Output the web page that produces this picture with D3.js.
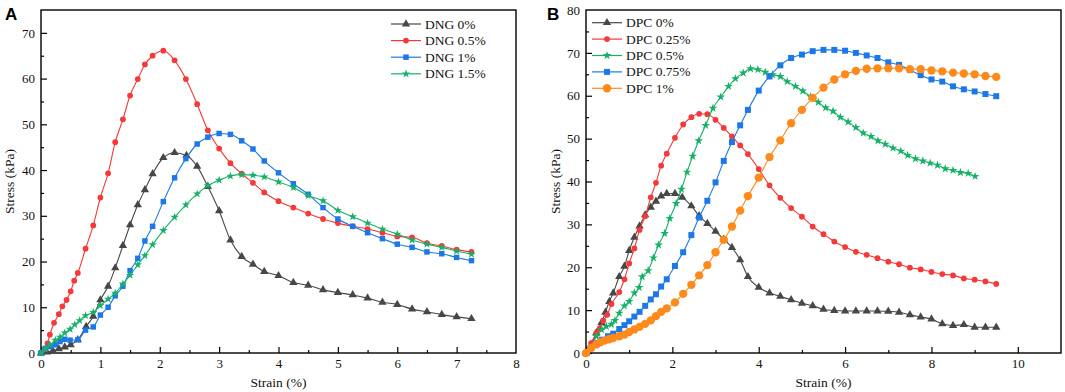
<!DOCTYPE html>
<html>
<head>
<meta charset="utf-8">
<script src="https://cdn.jsdelivr.net/npm/d3@7"></script>
<style>
  body { margin: 0; background: #fff; }
  svg { display: block; }
  .tick text { font-family: "Liberation Serif", "Times New Roman", serif; font-size: 13px; fill: #111; }
  .domain { display: none; }
  .tick line { stroke: #000; stroke-width: 1.2; }
</style>
</head>
<body>
<div id="chart"></div>
<script>
// ---- data (strain %, stress kPa) ----
const dngNames = ["DNG 0%", "DNG 0.5%", "DNG 1%", "DNG 1.5%"];
const dng0 = [[0,0],[0.1,0.2],[0.2,0.5],[0.3,0.9],[0.4,1.3],[0.5,1.8],[0.62,2.9],[0.76,5.8],[0.88,8],[1.0,11.6],[1.13,14.6],[1.25,18.6],[1.38,23.5],[1.5,28],[1.63,32.4],[1.75,35.7],[1.88,39.2],[2.06,42.7],[2.25,43.8],[2.45,43.2],[2.63,40.8],[2.81,36.4],[3.0,31.1],[3.19,24.7],[3.38,21.1],[3.57,19.4],[3.76,17.8],[4.0,16.9],[4.25,15.4],[4.5,14.8],[4.75,13.8],[5.0,13.2],[5.25,12.7],[5.5,12.0],[5.75,11.1],[6.0,10.6],[6.25,9.6],[6.5,9.0],[6.75,8.4],[7.0,7.9],[7.25,7.5]];
const dng05 = [[0,0],[0.07,0.8],[0.11,2.1],[0.15,4.0],[0.22,6.6],[0.3,8.5],[0.36,10.2],[0.43,11.6],[0.5,13.5],[0.56,15.8],[0.62,17.5],[0.75,22.8],[0.88,27.9],[1.0,34],[1.13,39.3],[1.25,46.1],[1.38,51.1],[1.5,56.3],[1.63,59.9],[1.75,63.1],[1.88,65],[2.06,66.1],[2.25,64],[2.44,59.9],[2.63,54.4],[2.81,48.7],[3.0,44.7],[3.19,41.5],[3.38,39.2],[3.57,37.2],[3.76,35.1],[4.0,33.2],[4.25,31.8],[4.5,30.5],[4.75,29.3],[5.0,28.4],[5.25,27.7],[5.5,27.1],[5.75,26.3],[6.0,25.5],[6.25,25.3],[6.5,24.0],[6.75,23.4],[7.0,22.6],[7.25,22.1]];
const dng1 = [[0,0],[0.07,1.0],[0.15,1.4],[0.24,1.8],[0.32,2.5],[0.4,3.0],[0.49,2.8],[0.62,2.9],[0.75,5.0],[0.88,5.7],[1.0,8.3],[1.13,10],[1.25,12.5],[1.38,14.6],[1.5,18],[1.63,20.7],[1.75,24.5],[1.88,27.7],[2.06,33.1],[2.25,38.3],[2.44,42.5],[2.63,45.7],[2.81,47.2],[3.0,48],[3.19,47.8],[3.38,46.4],[3.57,44.6],[3.76,42],[4.0,39.4],[4.25,37],[4.5,34.7],[4.75,31.8],[5.0,29.3],[5.25,27.7],[5.5,26.3],[5.75,25.0],[6.0,23.8],[6.25,23.1],[6.5,22.1],[6.75,21.7],[7.0,20.9],[7.25,20.2]];
const dng15 = [[0,0],[0.07,0.9],[0.15,1.8],[0.24,2.8],[0.32,3.5],[0.4,4.4],[0.49,5.2],[0.57,6.2],[0.65,7.1],[0.75,8.2],[0.88,8.9],[1.0,10.4],[1.13,11.8],[1.25,13.1],[1.38,15.1],[1.5,17],[1.63,19.3],[1.75,21.3],[1.88,23.7],[2.06,26.8],[2.25,29.7],[2.44,32.4],[2.63,34.8],[2.81,36.6],[3.0,37.8],[3.19,38.7],[3.38,39],[3.57,38.9],[3.76,38.5],[4.0,37.4],[4.25,36.2],[4.5,34.4],[4.75,33.3],[5.0,31.2],[5.25,29.8],[5.5,28.4],[5.75,27.1],[6.0,26],[6.25,24.7],[6.5,23.8],[6.75,23.1],[7.0,22.3],[7.25,21.6]];

const dpcNames = ["DPC 0%", "DPC 0.25%", "DPC 0.5%", "DPC 0.75%", "DPC 1%"];
const dpc0 = [[0,0],[0.12,1.9],[0.24,4.7],[0.36,7.1],[0.45,9.5],[0.54,12],[0.63,14],[0.77,17.8],[0.89,20.2],[1.0,23.9],[1.12,27],[1.24,29.6],[1.37,32.2],[1.5,34],[1.62,35.4],[1.74,36.6],[1.87,37.2],[2.06,37.2],[2.23,36.3],[2.44,34.3],[2.62,32],[2.81,30.2],[3.0,28.4],[3.19,26.5],[3.38,24.6],[3.57,21.7],[3.75,17.8],[4.0,15.3],[4.25,14],[4.5,13.2],[4.75,12.4],[5.0,11.6],[5.25,11],[5.5,10.2],[5.75,9.9],[6.0,9.8],[6.25,9.8],[6.5,9.8],[6.75,9.8],[7.0,9.7],[7.25,9.5],[7.5,8.9],[7.75,8.4],[8.0,7.9],[8.25,6.8],[8.5,6.4],[8.75,6.6],[9.0,6.0],[9.25,6.0],[9.5,6.0]];
const dpc025 = [[0,0],[0.12,2.3],[0.24,4.7],[0.32,5.8],[0.4,7.5],[0.49,8.9],[0.59,11.4],[0.77,14.2],[0.89,17.2],[1.0,20.9],[1.12,24.4],[1.24,28.7],[1.37,31.9],[1.5,36.3],[1.62,39.7],[1.74,43.7],[1.87,46.5],[2.06,50.2],[2.25,53.3],[2.44,55.0],[2.62,55.8],[2.81,55.7],[3.0,54.4],[3.19,52.5],[3.38,50.5],[3.57,48.4],[3.75,46.4],[4.0,42.9],[4.25,39.1],[4.5,36.2],[4.75,33.8],[5.0,31.8],[5.25,29.5],[5.5,27.7],[5.75,26],[6.0,24.7],[6.25,23.6],[6.5,22.9],[6.75,22.1],[7.0,21.3],[7.25,20.7],[7.5,19.9],[7.75,19.5],[8.0,18.9],[8.25,18.4],[8.5,18.1],[8.75,17.4],[9.0,17.1],[9.25,16.7],[9.5,16.1]];
const dpc05 = [[0,0],[0.12,1.4],[0.24,3.9],[0.36,5.4],[0.47,6.2],[0.59,6.7],[0.67,7.6],[0.77,9.3],[0.89,11],[1.0,12],[1.12,14],[1.23,15.3],[1.3,17.8],[1.44,19.2],[1.56,22.2],[1.68,25.2],[1.82,27.9],[1.94,31.4],[2.09,34.9],[2.21,38.2],[2.34,42.2],[2.47,45.9],[2.61,49.5],[2.77,53.1],[2.94,57.1],[3.12,59.7],[3.3,62.2],[3.46,64],[3.64,65.3],[3.81,66.3],[3.98,66.1],[4.15,65.5],[4.32,64.9],[4.5,64.5],[4.66,63.3],[4.85,62.2],[5.02,61.1],[5.2,59.8],[5.38,58.5],[5.55,57.2],[5.72,56.4],[5.89,55],[6.07,53.9],[6.25,52.6],[6.42,51.3],[6.6,50.5],[6.76,49.5],[6.93,48.7],[7.11,47.8],[7.29,47.1],[7.45,46.1],[7.63,45.3],[7.8,44.8],[7.97,44.3],[8.14,43.8],[8.32,43],[8.5,42.6],[8.67,42.1],[8.85,41.9],[9.01,41.2]];
const dpc075 = [[0,0],[0.12,1.1],[0.24,2.3],[0.36,3.1],[0.51,3.9],[0.63,4.5],[0.77,5.6],[0.89,6.5],[1.0,7.4],[1.12,8.5],[1.24,9.6],[1.37,11],[1.5,12.5],[1.62,13.7],[1.74,15.5],[1.87,17.2],[2.06,20.3],[2.25,23.5],[2.44,27.5],[2.62,31.6],[2.81,35.5],[3.0,39.8],[3.19,44.8],[3.38,49.2],[3.57,53.1],[3.75,56.7],[4.0,61.2],[4.25,64.5],[4.5,67.1],[4.75,68.8],[5.0,69.6],[5.25,70.4],[5.5,70.7],[5.75,70.7],[6.0,70.5],[6.25,70],[6.5,69.4],[6.75,68.8],[7.0,67.8],[7.25,67.2],[7.5,66],[7.75,64.8],[8.0,63.8],[8.25,63.3],[8.5,62.2],[8.75,61.5],[9.0,61],[9.25,60.4],[9.5,59.9]];
const dpc1 = [[0,0],[0.12,1.2],[0.24,2.0],[0.33,2.5],[0.43,2.9],[0.53,3.2],[0.63,3.5],[0.77,3.9],[0.89,4.3],[1.0,4.9],[1.12,5.5],[1.24,6.1],[1.37,6.8],[1.5,7.6],[1.62,8.6],[1.74,9.6],[1.87,10.4],[2.06,11.8],[2.25,13.8],[2.44,15.9],[2.62,18.1],[2.81,20.5],[3.0,23.5],[3.19,26.4],[3.38,29.5],[3.57,33.2],[3.75,36.6],[4.0,40.9],[4.25,45.7],[4.5,49.6],[4.75,53.6],[5.0,56.7],[5.25,59.5],[5.5,61.9],[5.75,63.8],[6.0,65],[6.25,65.8],[6.5,66.3],[6.75,66.4],[7.0,66.4],[7.25,66.4],[7.5,66.2],[7.75,66.2],[8.0,65.9],[8.25,65.7],[8.5,65.4],[8.75,65.2],[9.0,65],[9.25,64.6],[9.5,64.4]];

const xTicksA = [0, 1, 2, 3, 4, 5, 6, 7, 8];
const yTicksA = [0, 10, 20, 30, 40, 50, 60, 70];
const xTicksB = [0, 2, 4, 6, 8, 10];
const yTicksB = [0, 10, 20, 30, 40, 50, 60, 70, 80];

function init() {
  const width = 1065, height = 392;
  const serif = '"Liberation Serif", "Times New Roman", serif';

  const svg = d3.select("#chart").append("svg")
    .attr("width", width).attr("height", height);

  const sym = {
    tri: d3.symbol().type(d3.symbolTriangle),
    circ: d3.symbol().type(d3.symbolCircle),
    sq: d3.symbol().type(d3.symbolSquare),
    star: d3.symbol().type(d3.symbolStar)
  };

  function panel(cfg) {
    const x = d3.scaleLinear().domain(cfg.xDomain).range([cfg.left, cfg.right]);
    const y = d3.scaleLinear().domain(cfg.yDomain).range([cfg.bottom, cfg.top]);
    const g = svg.append("g");

    // minor ticks
    g.append("g").attr("transform", `translate(0,${cfg.bottom})`)
      .call(d3.axisBottom(x).tickValues(cfg.xMinor).tickSize(-3).tickFormat(""));
    g.append("g").attr("transform", `translate(${cfg.left},0)`)
      .call(d3.axisLeft(y).tickValues(cfg.yMinor).tickSize(-3).tickFormat(""));

    // major ticks
    g.append("g").attr("transform", `translate(0,${cfg.bottom})`)
      .call(d3.axisBottom(x).tickValues(cfg.xTicks).tickSize(-6).tickPadding(6).tickFormat(d3.format("d")));
    g.append("g").attr("transform", `translate(${cfg.left},0)`)
      .call(d3.axisLeft(y).tickValues(cfg.yTicks).tickSize(-6).tickPadding(6).tickFormat(d3.format("d")));

    g.selectAll(".tick").filter((d) => d === cfg.yDomain[1] || d === cfg.xDomain[1])
      .select("line").remove();

    // frame
    g.append("rect")
      .attr("x", cfg.left).attr("y", cfg.top)
      .attr("width", cfg.right - cfg.left).attr("height", cfg.bottom - cfg.top)
      .attr("fill", "none").attr("stroke", "#000").attr("stroke-width", 1.4);

    const line = d3.line().x((d) => x(d[0])).y((d) => y(d[1])).curve(d3.curveMonotoneX);

    cfg.series.forEach((s) => {
      g.append("path").datum(s.data)
        .attr("fill", "none").attr("stroke", s.color).attr("stroke-width", 1.1)
        .attr("d", line);
      g.append("g").selectAll("path").data(s.data).join("path")
        .attr("transform", (d) => `translate(${x(d[0])},${y(d[1])})`)
        .attr("d", sym[s.marker].size(s.size)())
        .attr("fill", s.color);
    });

    // legend
    const lg = g.append("g");
    cfg.series.forEach((s, i) => {
      const ly = cfg.legY + i * cfg.legStep;
      lg.append("line")
        .attr("x1", cfg.legX).attr("x2", cfg.legX + 30)
        .attr("y1", ly).attr("y2", ly)
        .attr("stroke", s.color).attr("stroke-width", 1.2);
      lg.append("path")
        .attr("transform", `translate(${cfg.legX + 15},${ly})`)
        .attr("d", sym[s.marker].size(s.size)())
        .attr("fill", s.color);
      lg.append("text")
        .attr("x", cfg.legX + 34).attr("y", ly + 4.5)
        .attr("font-family", serif).attr("font-size", "13.5px").attr("fill", "#111")
        .text(s.name);
    });

    // axis titles
    g.append("text")
      .attr("x", (cfg.left + cfg.right) / 2).attr("y", 387)
      .attr("text-anchor", "middle")
      .attr("font-family", serif).attr("font-size", "13.5px").attr("fill", "#111")
      .text("Strain (%)");
    g.append("text")
      .attr("transform", `translate(${cfg.yTitleX},${(cfg.top + cfg.bottom) / 2}) rotate(-90)`)
      .attr("text-anchor", "middle").attr("dy", "0.35em")
      .attr("font-family", serif).attr("font-size", "13.5px").attr("fill", "#111")
      .text("Stress (kPa)");

    // panel letter
    g.append("text")
      .attr("x", cfg.letterX).attr("y", 20)
      .attr("font-family", '"Liberation Sans", Arial, sans-serif')
      .attr("font-weight", "bold").attr("font-size", "17px")
      .text(cfg.letter);
  }

  panel({
    letter: "A", letterX: 5,
    left: 41, right: 516, top: 10, bottom: 353,
    xDomain: [0, 8], yDomain: [0, 75],
    xTicks: xTicksA, yTicks: yTicksA,
    xMinor: d3.range(0.5, 8, 1), yMinor: d3.range(5, 75, 10),
    yTitleX: 9,
    legX: 391, legY: 24, legStep: 16.6,
    series: [
      { name: dngNames[0], data: dng0, color: "#474747", marker: "tri", size: 30 },
      { name: dngNames[1], data: dng05, color: "#f53838", marker: "circ", size: 26 },
      { name: dngNames[2], data: dng1, color: "#1c78e6", marker: "sq", size: 30 },
      { name: dngNames[3], data: dng15, color: "#16b068", marker: "star", size: 22 }
    ]
  });

  panel({
    letter: "B", letterX: 547,
    left: 586, right: 1061, top: 10, bottom: 353,
    xDomain: [0, 11], yDomain: [0, 80],
    xTicks: xTicksB, yTicks: yTicksB,
    xMinor: d3.range(1, 11, 2), yMinor: d3.range(5, 80, 10),
    yTitleX: 555,
    legX: 592, legY: 22.7, legStep: 16.4,
    series: [
      { name: dpcNames[0], data: dpc0, color: "#474747", marker: "tri", size: 30 },
      { name: dpcNames[1], data: dpc025, color: "#f53838", marker: "circ", size: 26 },
      { name: dpcNames[2], data: dpc05, color: "#16b068", marker: "star", size: 24 },
      { name: dpcNames[3], data: dpc075, color: "#1c78e6", marker: "sq", size: 36 },
      { name: dpcNames[4], data: dpc1, color: "#ff8a1c", marker: "circ", size: 55 }
    ]
  });
}

window.addEventListener("load", init);
</script>
</body>
</html>
